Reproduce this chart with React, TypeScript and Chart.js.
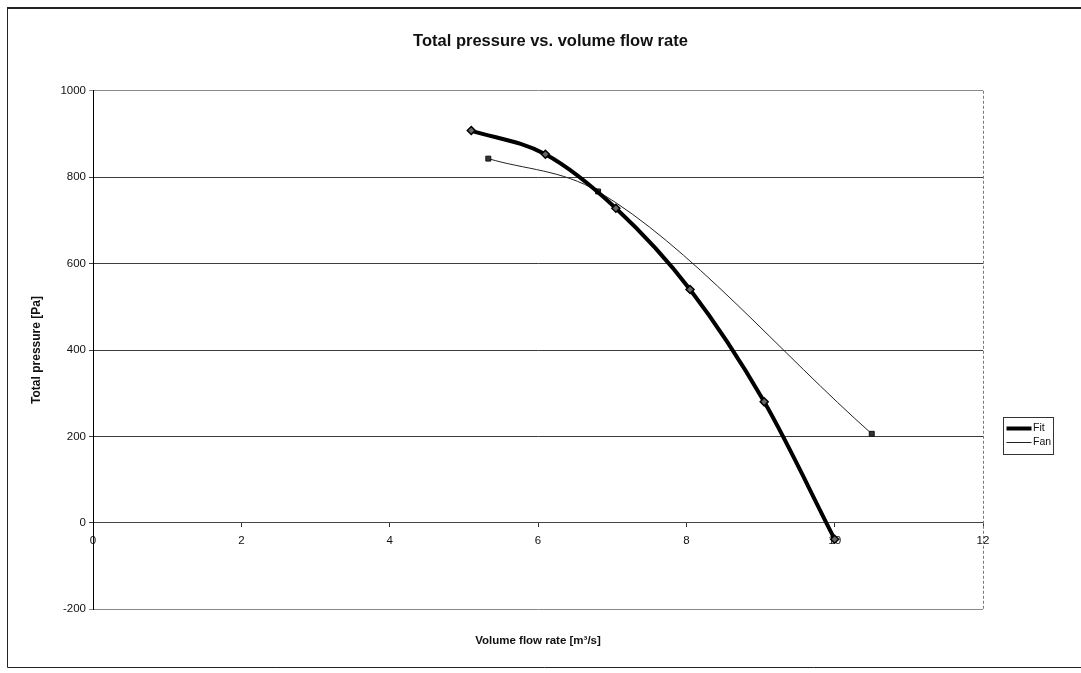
import { useEffect, useRef } from "react";
import { Chart, registerables } from "chart.js";

Chart.register(...registerables);

// Measured fan-system data: volume flow rate [m³/s] vs total pressure [Pa]
const fitFlow = [5.1, 6.1, 7.05, 8.05, 9.05, 10.0];
const fitPressure = [908, 853, 728, 540, 280, -38];
const fanFlow = [5.33, 6.81, 10.5];
const fanPressure = [843, 767, 206];

const seriesNames = ["Fit", "Fan"];
const xTickValues = [0, 2, 4, 6, 8, 10, 12];
const yTickValues = [-200, 0, 200, 400, 600, 800, 1000];

const FONT = "'Liberation Sans', Arial, Helvetica, sans-serif";

const toPoints = (xs: number[], ys: number[]) => xs.map((x, i) => ({ x, y: ys[i] }));

// Worksheet-style frame, dashed right edge of the plot and a boxed legend
const decorPlugin = {
  id: "sheetDecor",
  beforeDatasetsDraw(chart: any) {
    const { ctx, chartArea: a } = chart;
    ctx.save();
    ctx.strokeStyle = "#7a7a7a";
    ctx.lineWidth = 1;
    ctx.setLineDash([3, 2]);
    ctx.beginPath();
    ctx.moveTo(Math.round(a.right) + 0.5, a.top);
    ctx.lineTo(Math.round(a.right) + 0.5, a.bottom);
    ctx.stroke();
    ctx.restore();
  },
  afterDraw(chart: any) {
    const { ctx } = chart;
    ctx.save();
    // outer chart frame (runs off the right edge)
    ctx.strokeStyle = "#222";
    ctx.lineWidth = 1;
    ctx.beginPath();
    ctx.moveTo(1200, 667.5);
    ctx.lineTo(7.5, 667.5);
    ctx.lineTo(7.5, 8.5);
    ctx.stroke();
    ctx.lineWidth = 2;
    ctx.beginPath();
    ctx.moveTo(7, 8);
    ctx.lineTo(1200, 8);
    ctx.stroke();

    // legend box
    const bx = 1003.5;
    const by = 417.5;
    const bw = 50;
    const bh = 37;
    ctx.fillStyle = "#fff";
    ctx.fillRect(bx, by, bw, bh);
    ctx.strokeStyle = "#333";
    ctx.lineWidth = 1;
    ctx.strokeRect(bx, by, bw, bh);
    ctx.font = `10.5px ${FONT}`;
    ctx.textBaseline = "middle";
    ctx.textAlign = "left";
    chart.data.datasets.forEach((ds: any, i: number) => {
      const ly = by + 11 + i * 14;
      ctx.strokeStyle = ds.borderColor;
      ctx.lineWidth = ds.borderWidth;
      ctx.beginPath();
      ctx.moveTo(bx + 3, ly);
      ctx.lineTo(bx + 28, ly);
      ctx.stroke();
      ctx.fillStyle = "#111";
      ctx.fillText(ds.label, bx + 29.5, ly);
    });
    ctx.restore();
  },
};

export default function App() {
  const canvasRef = useRef<HTMLCanvasElement | null>(null);

  useEffect(() => {
    const canvas = canvasRef.current;
    if (!canvas) return;
    const chart = new Chart(canvas, {
      type: "scatter",
      data: {
        datasets: [
          {
            label: seriesNames[0],
            data: toPoints(fitFlow, fitPressure),
            showLine: true,
            borderColor: "#000",
            borderWidth: 4,
            cubicInterpolationMode: "monotone",
            pointStyle: "rectRot",
            pointRadius: 4,
            pointBorderWidth: 1.5,
            pointBorderColor: "#000",
            pointBackgroundColor: "#666",
          },
          {
            label: seriesNames[1],
            data: toPoints(fanFlow, fanPressure),
            showLine: true,
            borderColor: "#222",
            borderWidth: 1,
            cubicInterpolationMode: "monotone",
            pointStyle: "rect",
            pointRadius: 3.5,
            pointBorderWidth: 1,
            pointBorderColor: "#111",
            pointBackgroundColor: "#333",
          },
        ],
      },
      options: {
        responsive: false,
        animation: false,
        layout: { padding: { left: 20, right: 0, top: 0, bottom: 0 } },
        plugins: {
          legend: { display: false },
          tooltip: { enabled: false },
          title: {
            display: true,
            text: "Total pressure vs. volume flow rate",
            color: "#111",
            font: { family: FONT, size: 16.5, weight: "bold" },
            padding: { top: 32, bottom: 39 },
          },
          subtitle: {
            display: true,
            position: "bottom",
            fullSize: false,
            text: "Volume flow rate [m³/s]",
            color: "#111",
            font: { family: FONT, size: 11.5, weight: "bold" },
            padding: { top: 25, bottom: 25 },
          },
        },
        scales: {
          x: {
            type: "linear",
            position: { y: 0 } as any,
            min: xTickValues[0],
            max: xTickValues[xTickValues.length - 1],
            afterBuildTicks: (s: any) => {
              s.ticks = xTickValues.map((v) => ({ value: v }));
            },
            ticks: {
              color: "#111",
              font: { family: FONT, size: 11.5 },
              padding: 7,
              maxRotation: 0,
              autoSkip: false,
              callback: (v: any) => String(v),
            },
            grid: {
              drawOnChartArea: false,
              drawTicks: true,
              tickLength: 4,
              color: "#333",
            },
            border: { display: true, color: "#444", width: 1 },
          },
          y: {
            type: "linear",
            position: "left",
            min: yTickValues[0],
            max: yTickValues[yTickValues.length - 1],
            afterBuildTicks: (s: any) => {
              s.ticks = yTickValues.map((v) => ({ value: v }));
            },
            afterFit: (s: any) => {
              s.width = 73;
            },
            ticks: {
              color: "#111",
              font: { family: FONT, size: 11.5 },
              padding: 3,
              autoSkip: false,
              callback: (v: any) => String(v),
            },
            grid: {
              color: (c: any) =>
                c.tick && (c.tick.value === 1000 || c.tick.value === -200) ? "#8a8a8a" : "#3c3c3c",
              lineWidth: 1,
              tickLength: 4,
            },
            border: { display: true, color: "#000", width: 1 },
            title: {
              display: true,
              text: "Total pressure [Pa]",
              color: "#111",
              font: { family: FONT, size: 12, weight: "bold" },
              padding: { top: 9, bottom: 0 },
            },
          },
          legendSpace: {
            type: "linear",
            position: "right",
            display: true,
            afterFit: (s: any) => {
              s.width = 98;
            },
            ticks: { display: false },
            grid: { display: false, drawTicks: false },
            border: { display: false },
          },
        },
      },
      plugins: [decorPlugin],
    });
    return () => chart.destroy();
  }, []);

  return (
    <div style={{ position: "fixed", left: 0, top: 0, width: 1081, height: 673, background: "#fff" }}>
      <canvas ref={canvasRef} width={1081} height={673} style={{ display: "block" }} />
    </div>
  );
}
